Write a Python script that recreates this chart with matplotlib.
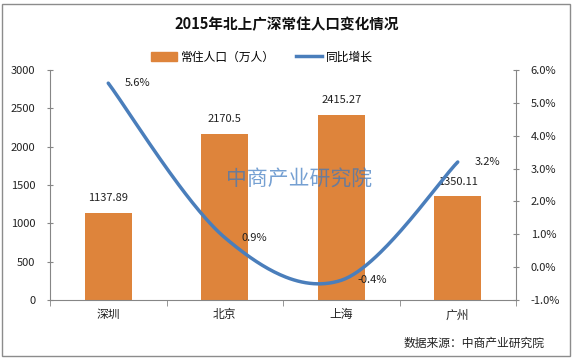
import numpy as np
import matplotlib
matplotlib.use("Agg")
import matplotlib.pyplot as plt
from matplotlib.patches import Patch, Rectangle
from matplotlib.lines import Line2D

plt.rcParams['font.family'] = ['Noto Sans CJK SC', 'DejaVu Sans']

cities = ['深圳', '北京', '上海', '广州']
population = [1137.89, 2170.5, 2415.27, 1350.11]
growth = [5.6, 0.9, -0.4, 3.2]
pop_labels = ['1137.89', '2170.5', '2415.27', '1350.11']
growth_labels = ['5.6%', '0.9%', '-0.4%', '3.2%']
left_ticks = [0, 500, 1000, 1500, 2000, 2500, 3000]
right_ticks = [-1, 0, 1, 2, 3, 4, 5, 6]

bar_color = '#DE843B'
line_color = '#4A7EBB'
axis_color = '#868686'

W, H = 574, 360
fig = plt.figure(figsize=(W/100, H/100), dpi=100)
fig.patches.append(Rectangle((2/W, 4/H), 568/W, 352/H, transform=fig.transFigure,
                             fill=False, edgecolor='#8C8C8C', lw=1))

ax = fig.add_axes([50/W, 60/H, 466/W, 230/H])
x = np.arange(len(cities))
ax.bar(x, population, width=0.4, color=bar_color, zorder=2)
ax.set_xlim(-0.5, len(cities) - 0.5)
ax.set_ylim(0, 3000)
ax.set_yticks(left_ticks)
ax.set_yticklabels([str(t) for t in left_ticks], fontsize=8, color='#222222')
ax.set_xticks(x)
ax.set_xticklabels(cities, fontsize=8.5, color='#222222')
ax.tick_params(axis='x', length=0, pad=6)
ax.set_xticks(np.arange(-0.5, len(cities) + 0.5, 1), minor=True)
ax.tick_params(axis='x', which='minor', length=4, direction='out', color=axis_color)
ax.tick_params(axis='y', length=5, direction='inout', color=axis_color, pad=8)
for s in ['top', 'right']:
    ax.spines[s].set_visible(False)
for s in ['left', 'bottom']:
    ax.spines[s].set_color(axis_color)

for xi, v, lab in zip(x, population, pop_labels):
    ax.annotate(lab, (xi, v), xytext=(0, 7), textcoords='offset points',
                ha='center', va='bottom', fontsize=8, color='#222222')

ax2 = ax.twinx()
ax2.set_ylim(-1, 6)
ax2.set_yticks(right_ticks)
ax2.set_yticklabels([f'{t:.1f}%' for t in right_ticks], fontsize=8, color='#222222')
ax2.tick_params(axis='y', length=5, direction='inout', color=axis_color, pad=8)
for s in ['top', 'left', 'bottom']:
    ax2.spines[s].set_visible(False)
ax2.spines['right'].set_color(axis_color)

# Excel-style smoothed line (Catmull-Rom / cubic Bezier)
px = x.astype(float)
py = np.array(growth, dtype=float)
P = np.column_stack([px, py])
curve = []
n = len(P)
t = np.linspace(0, 1, 60)
for i in range(n - 1):
    p0 = P[i - 1] if i > 0 else P[i]
    p1 = P[i]
    p2 = P[i + 1]
    p3 = P[i + 2] if i + 2 < n else P[i + 1]
    c1 = p1 + (p2 - p0) / 6
    c2 = p2 - (p3 - p1) / 6
    seg = ((1 - t)**3)[:, None] * p1 + (3 * (1 - t)**2 * t)[:, None] * c1 \
        + (3 * (1 - t) * t**2)[:, None] * c2 + (t**3)[:, None] * p2
    curve.append(seg)
curve = np.vstack(curve)
ax2.plot(curve[:, 0], curve[:, 1], color=line_color, lw=2.5, solid_capstyle='round', zorder=3)

for xi, v, lab in zip(x, growth, growth_labels):
    ax2.annotate(lab, (xi, v), xytext=(12, 0), textcoords='offset points',
                 ha='left', va='center', fontsize=8, color='#222222')

# watermark
fig.text(299/W, 1 - 180/H, '中商产业研究院', ha='center', va='center',
         fontsize=15, color='#3B78C0', alpha=0.7)

fig.text(0.5, 1 - 24/H, '2015年北上广深常住人口变化情况', ha='center', va='center',
         fontsize=10.5, fontweight='bold', color='#111111')

handles = [Patch(color=bar_color), Line2D([0], [0], color=line_color, lw=2.5)]
fig.legend(handles, ['常住人口（万人）', '同比增长'], loc='center', ncol=2,
           bbox_to_anchor=(262/W, 1 - 57/H), frameon=False, fontsize=8.5,
           handlelength=2.2, handleheight=0.7, columnspacing=1.8, handletextpad=0.3)

fig.text(545/W, 1 - 343/H, '数据来源：中商产业研究院', ha='right', va='center',
         fontsize=8.5, color='#222222')

fig.savefig('out.png', dpi=100)
